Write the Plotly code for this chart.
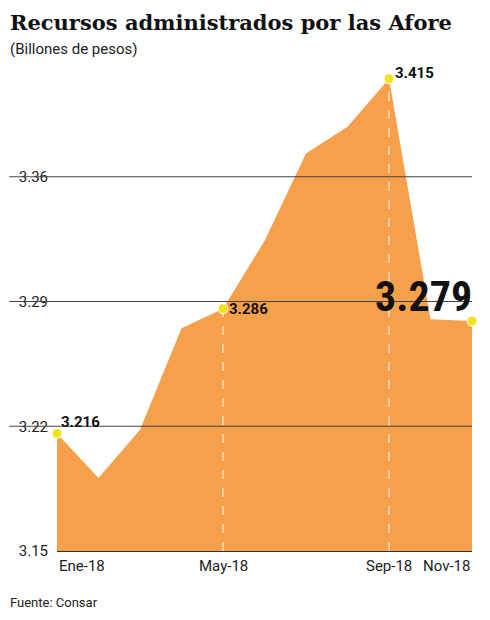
import plotly.graph_objects as go

months = ["Ene-18","Feb-18","Mar-18","Abr-18","May-18","Jun-18","Jul-18","Ago-18","Sep-18","Oct-18","Nov-18"]
values = [3.216,3.191,3.218,3.275,3.286,3.324,3.373,3.388,3.415,3.280,3.279]
marked = ["Ene-18","May-18","Sep-18","Nov-18"]
marked_vals = [3.216,3.286,3.415,3.279]
tick_vals = [3.15,3.22,3.29,3.36]
x_ticks = ["Ene-18","May-18","Sep-18","Nov-18"]

fig = go.Figure()
fig.add_trace(go.Scatter(x=months, y=values, fill="tozeroy", mode="lines",
    line=dict(color="#F7A04B", width=0), fillcolor="#F7A04B", hoverinfo="skip"))
for m, v in zip(["May-18","Sep-18"], [3.286,3.415]):
    fig.add_trace(go.Scatter(x=[m,m], y=[3.15,v], mode="lines",
        line=dict(color="white", width=1, dash="dash"), hoverinfo="skip"))
fig.add_trace(go.Scatter(x=marked, y=marked_vals, mode="markers",
    marker=dict(color="#F5E11B", size=10, line=dict(color="white", width=1)), cliponaxis=False))
for t in tick_vals[1:]:
    fig.add_shape(type="line", xref="paper", x0=-0.115, x1=1, y0=t, y1=t,
                  line=dict(color="#444", width=1), layer="above")

lab = dict(font=dict(family="Roboto", size=15, color="#111"), showarrow=False)
fig.add_annotation(x="Ene-18", y=3.216, text="<b>3.216</b>", xanchor="left", yanchor="bottom", xshift=2, **lab)
fig.add_annotation(x="May-18", y=3.286, text="<b>3.286</b>", xanchor="left", yanchor="middle", xshift=4, **lab)
fig.add_annotation(x="Sep-18", y=3.415, text="<b>3.415</b>", xanchor="left", yanchor="middle", xshift=4, yshift=6, **lab)
fig.add_annotation(x="Nov-18", y=3.279, text="<b>3.279</b>", xanchor="right", yanchor="bottom", xshift=2, yshift=-2,
                   font=dict(family="Roboto Condensed, Liberation Sans Narrow, Roboto", size=42, color="#111"),
                   showarrow=False)

anchors = {"Ene-18": "left", "May-18": "center", "Sep-18": "center", "Nov-18": "right"}
for m in x_ticks:
    fig.add_annotation(x=m, y=3.15, yref="y", text=m, xanchor=anchors[m], yanchor="top", yshift=-4,
                       showarrow=False, font=dict(family="Roboto", size=15, color="#222"))

fig.add_annotation(xref="paper", yref="paper", x=-0.118, y=1.0, yshift=44, xanchor="left", yanchor="top",
    text="<b>Recursos administrados por las Afore</b>", showarrow=False,
    font=dict(family="DejaVu Serif", size=21, color="#111"))
fig.add_annotation(xref="paper", yref="paper", x=-0.118, y=1.0, yshift=14, xanchor="left", yanchor="top",
    text="(Billones de pesos)", showarrow=False, font=dict(family="Roboto", size=15, color="#222"))
fig.add_annotation(xref="paper", yref="paper", x=-0.118, y=0, yshift=-42, xanchor="left", yanchor="top",
    text="Fuente: Consar", showarrow=False, font=dict(family="Roboto", size=13, color="#222"))

fig.update_layout(width=490, height=620, margin=dict(l=49, r=26, t=44, b=77),
    plot_bgcolor="white", paper_bgcolor="white", showlegend=False,
    xaxis=dict(type="category", categoryarray=months, showticklabels=False,
               range=[0, 10], showgrid=False, showline=True, linecolor="#333", ticks=""),
    yaxis=dict(range=[3.15, 3.43], tickvals=tick_vals, ticktext=["3.15","3.22","3.29","3.36"],
               showgrid=False, zeroline=False, ticks="", ticklabelstandoff=8,
               tickfont=dict(family="Roboto", size=15, color="#222")))
fig.write_html("out.html")
